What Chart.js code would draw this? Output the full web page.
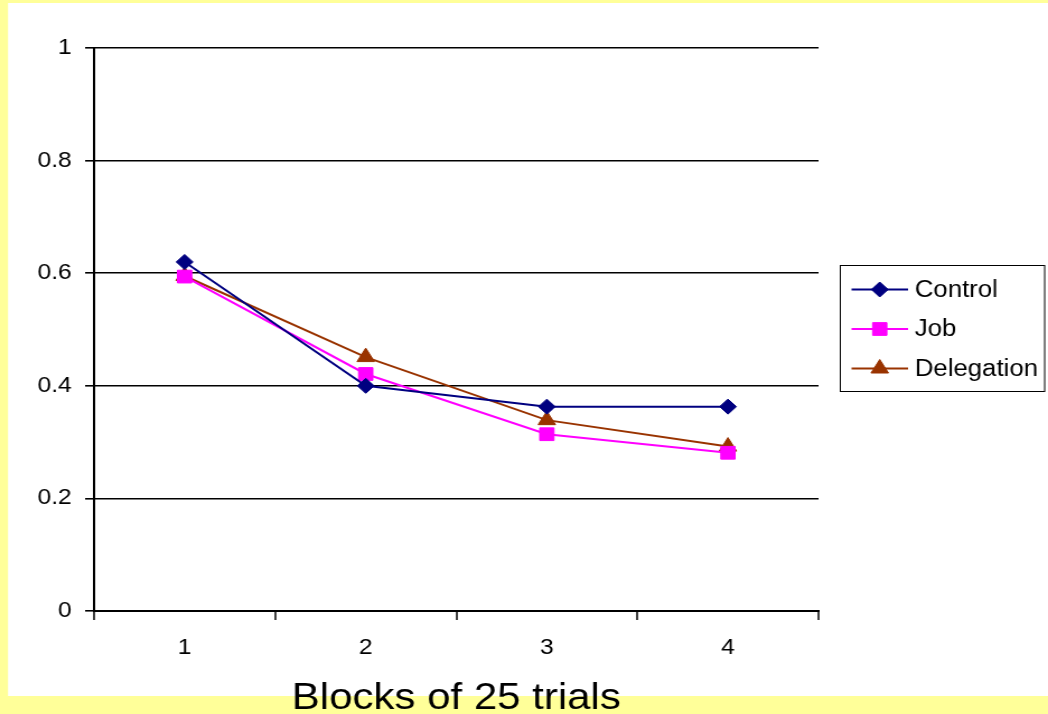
<!DOCTYPE html>
<html>
<head>
<meta charset="utf-8">
<script src="https://cdn.jsdelivr.net/npm/chart.js@4.4.1/dist/chart.umd.min.js"></script>
<style>
  html, body { margin: 0; padding: 0; background: #ffff99; overflow: hidden; }
  /* the chart is laid out at 936px and widened to fill the 1048px page */
  #wrap { position: absolute; left: 0; top: 0; width: 936px; height: 714px;
          transform: scaleX(1.1197); transform-origin: 0 0; }
</style>
</head>
<body>
<div id="wrap"><canvas id="c"></canvas></div>
<script>
// ---- data ----
const categories = ['1', '2', '3', '4'];
const control    = [0.62, 0.40, 0.363, 0.363];
const job        = [0.594, 0.421, 0.314, 0.281];
const delegation = [0.595, 0.451, 0.339, 0.292];
const yTickValues = [0, 0.2, 0.4, 0.6, 0.8, 1];
const seriesNames = ['Control', 'Job', 'Delegation'];
const xAxisTitle = 'Blocks of 25 trials';

const FONT = "'Liberation Sans', Arial, sans-serif";

// white panel behind the chart, leaving a yellow frame
const panelPlugin = {
  id: 'panel',
  beforeDraw(chart) {
    const ctx = chart.ctx;
    ctx.save();
    ctx.fillStyle = '#ffffff';
    ctx.fillRect(7.2, 3, chart.width - 7.2, 693);
    ctx.restore();
  }
};

// boxed legend with line + marker samples
const boxLegendPlugin = {
  id: 'boxLegend',
  afterDraw(chart) {
    const ctx = chart.ctx;
    const box = { x: 750.5, y: 265.5, w: 182.5, h: 126 };
    ctx.save();
    ctx.strokeStyle = '#000000';
    ctx.lineWidth = 1;
    ctx.strokeRect(box.x, box.y, box.w, box.h);
    const rowY = [289.5, 329, 368.5];
    chart.data.datasets.forEach((ds, i) => {
      const y = rowY[i];
      ctx.strokeStyle = ds.borderColor;
      ctx.lineWidth = ds.borderWidth;
      ctx.beginPath();
      ctx.moveTo(760.5, y);
      ctx.lineTo(811, y);
      ctx.stroke();
      ctx.fillStyle = ds.pointBackgroundColor;
      ctx.strokeStyle = ds.pointBorderColor;
      ctx.lineWidth = 1;
      Chart.helpers.drawPoint(ctx, {
        pointStyle: ds.pointStyle, radius: ds.pointRadius, rotation: 0, borderWidth: 1
      }, 785.7, y);
      ctx.fillStyle = '#000000';
      ctx.font = '23px ' + FONT;
      ctx.textAlign = 'left';
      ctx.textBaseline = 'middle';
      ctx.fillText(ds.label, 817, y + 1);
    });
    ctx.restore();
  }
};

function series(label, values, color, style, radius) {
  return {
    label, data: values,
    borderColor: color, borderWidth: 2,
    backgroundColor: color,
    pointStyle: style, pointRadius: radius, pointHoverRadius: radius,
    pointBackgroundColor: color, pointBorderColor: color, pointBorderWidth: 1,
    tension: 0, fill: false
  };
}

new Chart(document.getElementById('c'), {
  type: 'line',
  data: {
    labels: categories,
    datasets: [
      series(seriesNames[0], control, '#000080', 'rectRot', 7.5),
      series(seriesNames[1], job, '#ff00ff', 'rect', 9),
      series(seriesNames[2], delegation, '#993300', 'triangle', 9)
    ]
  },
  options: {
    responsive: true,
    maintainAspectRatio: false,
    animation: false,
    events: [],
    layout: { padding: { left: 0, right: 205, top: 48, bottom: 0 } },
    plugins: {
      legend: { display: false },
      tooltip: { enabled: false },
      title: { display: false }
    },
    scales: {
      x: {
        type: 'category',
        offset: true,
        grid: {
          offset: true,
          drawOnChartArea: true,
          color: (c) => (c.index === categories.length ? '#000000' : 'rgba(0,0,0,0)'),
          lineWidth: 2,
          tickColor: '#000000',
          tickLength: 9,
          tickWidth: 1.5
        },
        border: { display: true, color: '#000000', width: 2 },
        ticks: { color: '#000000', font: { family: FONT, size: 22 }, padding: 15, maxRotation: 0 },
        title: {
          display: true, text: xAxisTitle, color: '#000000',
          font: { family: FONT, size: 37.5, lineHeight: 1 },
          padding: { top: 0, bottom: -3 }
        },
        afterFit(scale) { scale.height = 103; }
      },
      y: {
        min: 0, max: 1,
        afterBuildTicks(scale) { scale.ticks = yTickValues.map(v => ({ value: v })); },
        grid: { color: '#000000', lineWidth: 1.6, tickLength: 8, tickColor: '#000000', tickWidth: 1.6 },
        border: { display: true, color: '#000000', width: 2 },
        ticks: {
          color: '#000000', font: { family: FONT, size: 22 }, padding: 12,
          callback: (v) => String(v)
        },
        afterFit(scale) { scale.width = 84; }
      }
    }
  },
  plugins: [panelPlugin, boxLegendPlugin]
});
</script>
</body>
</html>
